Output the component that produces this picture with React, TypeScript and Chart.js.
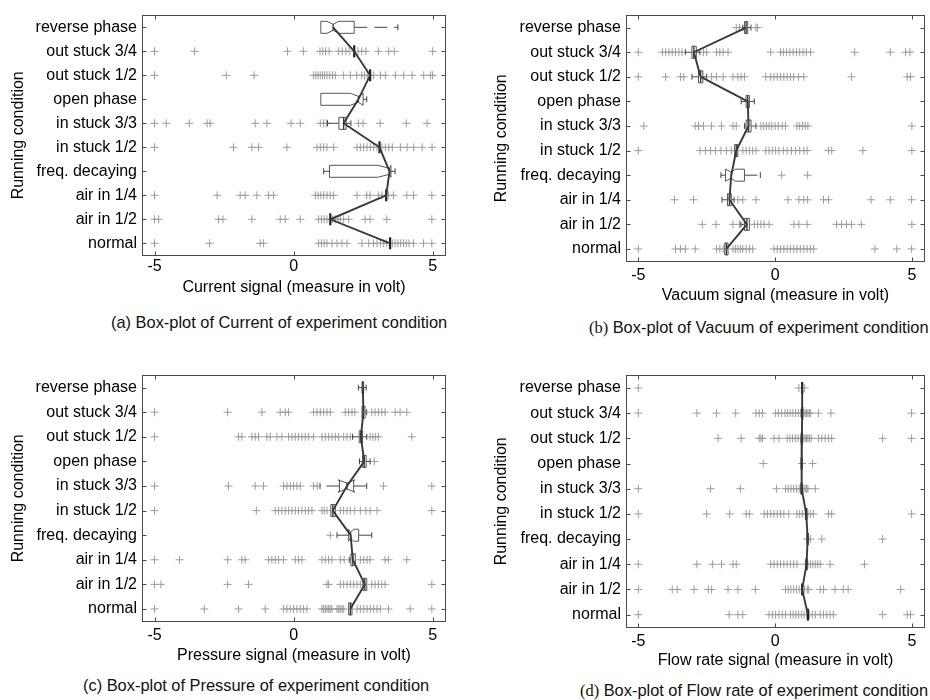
import React, { useEffect, useRef } from "react";
import { Chart, registerables } from "chart.js";
Chart.register(...registerables);

// ---------- data ----------
const categories = [
  "reverse phase",
  "out stuck 3/4",
  "out stuck 1/2",
  "open phase",
  "in stuck 3/3",
  "in stuck 1/2",
  "freq. decaying",
  "air in 1/4",
  "air in 1/2",
  "normal",
];
const xTickValues = [-5, 0, 5];

// (a) Current
const currentMedian = [1.42, 2.18, 2.75, 2.33, 1.8, 3.09, 3.45, 3.33, 1.32, 3.47];
const currentQ1 = [0.98, 2.18, 2.75, 0.98, 1.63, 3.09, 1.29, 3.33, 1.32, 3.47];
const currentQ3 = [2.18, 2.18, 2.75, 2.5, 1.89, 3.09, 3.5, 3.33, 1.32, 3.47];
const currentWhiskerLow = [0.98, 2.18, 2.75, 0.98, 1.22, 3.09, 1.08, 3.33, 1.32, 3.47];
const currentWhiskerHigh = [3.75, 2.18, 2.75, 2.63, 2.06, 3.09, 3.65, 3.33, 1.32, 3.47];
const currentNotchLow = [1.2, null, null, 2.04, null, null, 3.02, null, null, null];
const currentNotchHigh = [1.62, null, null, 2.5, null, null, 3.5, null, null, null];
const currentOutliers = [
  [],
  [-5, -3.56, -0.22, 0.35, 0.95, 1.05, 1.15, 1.28, 1.62, 1.75, 1.88, 2.0, 2.32, 2.45, 2.6, 3.05, 3.42, 3.62, 5.0],
  [-5, -2.42, -1.42, 0.72, 0.8, 0.88, 0.96, 1.04, 1.12, 1.2, 1.3, 1.4, 1.5, 1.8, 2.04, 2.27, 2.45, 2.55, 2.65, 2.78, 2.88, 3.12, 3.3, 3.66, 3.96, 4.26, 4.68, 4.92, 5.0],
  [],
  [-5, -4.58, -3.75, -3.11, -3.0, -1.38, -0.96, -0.09, 0.24, 0.96, 1.08, 1.18, 2.33, 2.5, 3.11, 4.05, 4.8],
  [-5, -2.16, -1.5, -1.26, -0.24, 0.84, 0.96, 1.08, 1.2, 1.44, 2.28, 2.4, 2.52, 2.64, 2.76, 2.88, 3.0, 3.18, 3.3, 3.42, 3.55, 3.84, 4.08, 4.32, 4.62, 4.98],
  [],
  [-5, -2.75, -1.92, -1.74, -1.32, -0.9, -0.72, 0.78, 0.88, 0.98, 1.08, 1.2, 1.32, 1.44, 2.28, 2.63, 2.75, 3.05, 3.18, 3.41, 3.59, 4.07, 4.31, 4.97],
  [-5, -4.85, -2.7, -2.54, -1.5, -0.48, -0.3, 0.24, 0.9, 1.0, 1.1, 1.2, 1.4, 1.5, 1.6, 1.68, 1.8, 1.98, 2.57, 2.75, 3.35, 4.97],
  [-5, -3.02, -1.2, -1.08, 0.9, 1.0, 1.1, 1.2, 1.38, 1.56, 1.74, 1.92, 2.46, 2.7, 2.87, 3.0, 3.12, 3.24, 3.35, 3.55, 3.65, 3.75, 3.85, 3.95, 4.05, 4.15, 4.31, 4.67, 4.97],
];

// (b) Vacuum
const vacuumMedian = [-1.06, -2.97, -2.72, -1.0, -0.97, -1.42, -1.6, -1.67, -1.03, -1.78];
const vacuumQ1 = [-1.12, -3.04, -2.8, -1.06, -1.06, -1.48, -1.81, -1.74, -1.12, -1.84];
const vacuumQ3 = [-1.0, -2.88, -2.64, -0.94, -0.88, -1.36, -1.12, -1.6, -0.94, -1.72];
const vacuumWhiskerLow = [-1.18, -3.28, -3.04, -1.24, -1.12, -1.48, -1.98, -1.94, -1.25, -1.84];
const vacuumWhiskerHigh = [-0.88, -2.75, -2.5, -0.76, -0.7, -1.36, -0.54, -1.5, -0.94, -1.72];
const vacuumNotchLow = [null, null, null, null, null, null, -1.81, null, null, null];
const vacuumNotchHigh = [null, null, null, null, null, null, -1.45, null, null, null];
const vacuumOutliers = [
  [-1.42, -1.3, -0.7, -0.64],
  [-5, -4.12, -4.0, -3.88, -3.76, -3.64, -3.52, -3.4, -2.62, -2.5, -2.14, -2.02, -1.9, -1.72, -0.16, 0.2, 0.3, 0.42, 0.54, 0.66, 0.78, 0.9, 1.02, 1.14, 1.3, 2.91, 4.21, 4.77, 4.93],
  [-5, -4.0, -3.46, -3.34, -2.32, -2.14, -1.9, -1.54, -1.36, -1.24, -1.12, -0.34, -0.16, -0.04, 0.08, 0.2, 0.32, 0.44, 0.56, 0.68, 0.86, 1.05, 2.79, 4.83, 4.95],
  [],
  [-4.8, -2.92, -2.8, -2.62, -2.32, -1.96, -1.54, -1.42, -0.52, -0.42, -0.32, -0.22, -0.12, 0.0, 0.12, 0.26, 0.38, 0.8, 0.9, 1.0, 1.1, 1.2, 5.0],
  [-5, -2.74, -2.55, -2.36, -2.18, -1.98, -1.78, -1.6, -1.18, -1.06, -0.94, -0.82, -0.7, -0.34, -0.22, -0.1, 0.02, 0.14, 0.3, 0.44, 0.6, 0.75, 0.9, 1.05, 1.17, 1.95, 2.07, 3.21, 5.0],
  [0.24, 1.19],
  [-3.68, -2.98, -1.36, -1.18, -0.7, 0.47, 0.87, 1.05, 1.19, 1.77, 1.95, 3.51, 4.21, 4.99],
  [-2.66, -2.16, -1.54, -1.3, -0.76, -0.64, -0.52, -0.4, -0.22, 0.69, 0.87, 1.17, 2.25, 2.43, 2.61, 2.79, 3.15, 5.0],
  [-5, -3.64, -3.46, -3.28, -2.92, -2.14, -2.02, -1.9, -1.54, -1.45, -1.36, -1.27, -1.18, -1.06, -0.94, -0.82, -0.04, 0.08, 0.2, 0.32, 0.44, 0.56, 0.68, 0.8, 0.92, 1.05, 1.17, 1.29, 1.41, 3.65, 4.45, 4.99],
];

// (c) Pressure
const pressureMedian = [2.49, 2.51, 2.42, 2.54, 1.92, 1.41, 2.05, 2.13, 2.56, 2.04];
const pressureQ1 = [2.46, 2.46, 2.36, 2.48, 1.65, 1.34, 1.98, 2.06, 2.49, 1.98];
const pressureQ3 = [2.52, 2.57, 2.48, 2.61, 2.16, 1.5, 2.34, 2.22, 2.63, 2.1];
const pressureWhiskerLow = [2.33, 2.46, 2.12, 2.37, 0.95, 1.34, 1.56, 2.0, 2.49, 1.98];
const pressureWhiskerHigh = [2.61, 2.63, 2.63, 2.75, 2.63, 1.5, 2.81, 2.22, 2.63, 2.1];
const pressureNotchLow = [null, null, null, null, 1.6, null, 1.96, null, null, null];
const pressureNotchHigh = [null, null, null, null, 2.2, null, 2.16, null, null, null];
const pressureOutliers = [
  [],
  [-5, -2.37, -1.14, -0.48, -0.3, -0.18, 0.72, 0.84, 0.96, 1.08, 1.2, 1.32, 1.86, 1.98, 2.1, 2.2, 2.81, 2.93, 3.05, 3.17, 3.29, 3.65, 3.83, 4.07],
  [-5, -1.98, -1.86, -1.5, -1.38, -1.26, -0.96, -0.84, -0.6, -0.42, -0.18, -0.06, 0.06, 0.18, 0.3, 0.42, 0.54, 0.72, 1.02, 1.14, 1.26, 1.38, 1.5, 1.62, 1.8, 1.92, 2.04, 2.75, 2.85, 2.95, 3.05, 4.25],
  [2.9],
  [-5, -2.34, -1.38, -1.08, -0.36, -0.24, -0.12, 0.0, 0.12, 0.24, 0.72, 0.85, 3.23, 4.97],
  [-5, -1.34, -0.66, -0.54, -0.42, -0.3, -0.18, -0.06, 0.06, 0.18, 0.3, 0.42, 0.54, 0.66, 1.02, 1.1, 1.2, 1.68, 1.8, 1.92, 2.04, 2.2, 2.4, 2.6, 2.75, 3.0, 4.97],
  [1.32],
  [-5, -4.1, -2.37, -1.86, -1.74, -0.9, -0.78, -0.66, -0.54, -0.36, 0.06, 0.18, 0.3, 1.02, 1.14, 1.26, 1.38, 1.68, 1.82, 2.4, 2.52, 2.64, 2.75, 3.29, 3.41, 4.07],
  [-5, -4.77, -2.37, -1.62, 1.2, 1.26, 1.68, 1.8, 1.92, 2.04, 2.16, 2.28, 2.4, 2.81, 2.93, 3.05, 3.17, 3.29, 4.97],
  [-5, -3.21, -1.98, -1.02, -0.36, -0.24, -0.12, 0.0, 0.12, 0.24, 0.36, 0.48, 1.02, 1.08, 1.14, 1.2, 1.26, 1.32, 1.38, 1.56, 1.62, 1.68, 1.74, 1.8, 2.28, 2.4, 2.52, 2.64, 2.76, 2.88, 3.0, 3.12, 3.41, 4.19, 4.97],
];

// (d) Flow rate
const flowMedian = [0.99, 0.99, 0.98, 0.97, 0.97, 1.14, 1.19, 1.15, 0.99, 1.2];
const flowQ1 = [0.99, 0.99, 0.98, 0.97, 0.97, 1.14, 1.19, 1.15, 0.99, 1.2];
const flowQ3 = [0.99, 0.99, 0.98, 0.97, 0.97, 1.14, 1.19, 1.15, 0.99, 1.2];
const flowWhiskerLow = [0.99, 0.99, 0.98, 0.97, 0.97, 1.14, 1.19, 1.15, 0.99, 1.2];
const flowWhiskerHigh = [0.99, 0.99, 0.98, 0.97, 0.97, 1.14, 1.19, 1.15, 0.99, 1.2];
const flowNotchLow = [null, null, null, null, null, null, null, null, null, null];
const flowNotchHigh = [null, null, null, null, null, null, null, null, null, null];
const flowOutliers = [
  [-5, 0.87, 1.08],
  [-5, -2.86, -2.14, -1.44, -0.7, -0.58, -0.46, 0.02, 0.12, 0.24, 0.36, 0.45, 0.55, 0.65, 0.75, 0.85, 0.93, 1.05, 1.1, 1.15, 1.2, 1.25, 1.29, 1.59, 2.04, 4.99],
  [-2.08, -1.24, -0.58, -0.52, -0.46, -0.04, 0.14, 0.44, 0.54, 0.64, 0.74, 0.84, 0.93, 1.05, 1.1, 1.15, 1.2, 1.25, 1.32, 1.59, 1.71, 1.83, 1.95, 2.07, 3.93, 4.99],
  [-0.43, 0.99, 1.37],
  [-5, -2.36, -1.27, 0.05, 0.38, 0.48, 0.58, 0.68, 0.78, 0.88, 0.93, 1.05, 1.1, 1.15, 1.2, 1.47],
  [-5, -2.5, -1.66, -1.06, -0.94, -0.4, -0.28, -0.16, -0.04, 0.08, 0.2, 0.32, 0.5, 0.8, 0.9, 1.0, 1.1, 1.2, 1.3, 1.4, 1.95, 2.07, 4.99],
  [1.17, 1.29, 1.71, 3.93],
  [-5, -2.86, -2.28, -1.96, -1.54, -1.42, -0.16, -0.04, 0.08, 0.2, 0.32, 0.44, 0.56, 0.68, 0.8, 1.11, 1.2, 1.29, 1.38, 1.47, 1.56, 1.65, 2.01, 3.27],
  [-5, -3.76, -3.58, -2.96, -2.44, -2.32, -1.72, -1.36, -0.72, 0.38, 0.48, 0.58, 0.68, 0.78, 0.88, 0.98, 1.08, 1.18, 1.23, 1.65, 1.77, 2.19, 2.49, 2.67, 4.59],
  [-5, -1.68, -1.36, -1.18, -0.22, -0.1, 0.02, 0.14, 0.26, 0.38, 0.56, 0.66, 0.76, 0.86, 0.96, 1.06, 1.16, 1.26, 1.36, 1.47, 1.65, 1.77, 1.89, 2.01, 2.13, 3.93, 4.83, 4.95],
];

const axisTitles = [
  "Current signal (measure in volt)",
  "Vacuum signal (measure in volt)",
  "Pressure signal (measure in volt)",
  "Flow rate signal (measure in volt)",
];
const captionLabels = ["(a)", "(b)", "(c)", "(d)"];
const captionTexts = [
  " Box-plot of Current of experiment condition",
  " Box-plot of Vacuum of experiment condition",
  " Box-plot of Pressure of experiment condition",
  " Box-plot of Flow rate of experiment condition",
];
const yAxisTitle = "Running condition";

// ---------- assembly ----------
const panelData = [
  { median: currentMedian, q1: currentQ1, q3: currentQ3, wLo: currentWhiskerLow, wHi: currentWhiskerHigh, nLo: currentNotchLow, nHi: currentNotchHigh, outliers: currentOutliers },
  { median: vacuumMedian, q1: vacuumQ1, q3: vacuumQ3, wLo: vacuumWhiskerLow, wHi: vacuumWhiskerHigh, nLo: vacuumNotchLow, nHi: vacuumNotchHigh, outliers: vacuumOutliers },
  { median: pressureMedian, q1: pressureQ1, q3: pressureQ3, wLo: pressureWhiskerLow, wHi: pressureWhiskerHigh, nLo: pressureNotchLow, nHi: pressureNotchHigh, outliers: pressureOutliers },
  { median: flowMedian, q1: flowQ1, q3: flowQ3, wLo: flowWhiskerLow, wHi: flowWhiskerHigh, nLo: flowNotchLow, nHi: flowNotchHigh, outliers: flowOutliers },
];

const layouts = [
  { left: 0, top: 0, width: 460, height: 300, padTop: 7, padRight: 14, yAxisW: 142, xAxisH: 44, tickPad: 1, xTitlePad: 3, yTitlePad: 9, capLeft: 111, capTop: 313, serifLabel: false },
  { left: 460, top: 0, width: 470, height: 310, padTop: 7, padRight: 1, yAxisW: 166, xAxisH: 48, tickPad: 4, xTitlePad: 5, yTitlePad: 32, capLeft: 589, capTop: 318, serifLabel: true },
  { left: 0, top: 360, width: 460, height: 310, padTop: 12, padRight: 14, yAxisW: 142, xAxisH: 48, tickPad: 4, xTitlePad: 5, yTitlePad: 9, capLeft: 83, capTop: 676, serifLabel: false },
  { left: 460, top: 360, width: 470, height: 320, padTop: 12, padRight: 1, yAxisW: 166, xAxisH: 52, tickPad: 4, xTitlePad: 10, yTitlePad: 32, capLeft: 580, capTop: 681, serifLabel: true },
];

const SANS = "'Liberation Sans', Arial, Helvetica, sans-serif";
const TEXT = "#000";
const N = categories.length;

function makeFramePlugin() {
  return {
    id: "frame",
    afterDraw(chart: any) {
      const { ctx, chartArea: a } = chart;
      const xs = chart.scales.x;
      const ys = chart.scales.y;
      ctx.save();
      ctx.strokeStyle = "#4a4a4a";
      ctx.lineWidth = 1;
      const L = Math.round(a.left) + 0.5;
      const R = Math.round(a.right) - 0.5;
      const T = Math.round(a.top) + 0.5;
      const B = Math.round(a.bottom) - 0.5;
      ctx.strokeRect(L, T, R - L, B - T);
      ctx.beginPath();
      xTickValues.forEach((v) => {
        const px = Math.round(xs.getPixelForValue(v)) + 0.5;
        ctx.moveTo(px, T);
        ctx.lineTo(px, T + 4);
        ctx.moveTo(px, B);
        ctx.lineTo(px, B - 4);
      });
      categories.forEach((_, i) => {
        const py = Math.round(ys.getPixelForValue(N - i)) + 0.5;
        ctx.moveTo(L, py);
        ctx.lineTo(L + 4, py);
        ctx.moveTo(R, py);
        ctx.lineTo(R - 4, py);
      });
      ctx.stroke();
      ctx.restore();
    },
  };
}

function makeBoxPlugin(p: any) {
  return {
    id: "boxes",
    beforeDatasetDraw(chart: any, args: any) {
      if (args.index !== 1) return;
      const { ctx } = chart;
      const xs = chart.scales.x;
      const ys = chart.scales.y;
      const X = (v: number) => xs.getPixelForValue(v);
      const H = 6;
      ctx.save();
      categories.forEach((_, i) => {
        const y = ys.getPixelForValue(N - i);
        const q1 = X(p.q1[i]);
        const q3 = X(p.q3[i]);
        const md = X(p.median[i]);
        const lo = X(p.wLo[i]);
        const hi = X(p.wHi[i]);
        ctx.strokeStyle = "#444";
        ctx.lineWidth = 1;
        // whiskers
        ctx.setLineDash([13, 7]);
        ctx.beginPath();
        if (lo < q1 - 0.5) {
          ctx.moveTo(q1, y);
          ctx.lineTo(lo, y);
        }
        if (hi > q3 + 0.5) {
          ctx.moveTo(q3, y);
          ctx.lineTo(hi, y);
        }
        ctx.stroke();
        ctx.setLineDash([]);
        ctx.beginPath();
        if (lo < q1 - 0.5) {
          ctx.moveTo(lo, y - 3);
          ctx.lineTo(lo, y + 3);
        }
        if (hi > q3 + 0.5) {
          ctx.moveTo(hi, y - 3);
          ctx.lineTo(hi, y + 3);
        }
        ctx.stroke();
        // box
        if (q3 - q1 > 0.5) {
          const nl = p.nLo[i];
          const nh = p.nHi[i];
          ctx.strokeStyle = "#555";
          ctx.beginPath();
          if (nl != null && nh != null) {
            const a = X(nl);
            const b = X(nh);
            ctx.moveTo(q1, y - H);
            ctx.lineTo(a, y - H);
            ctx.lineTo(md, y - H / 2);
            ctx.lineTo(b, y - H);
            ctx.lineTo(q3, y - H);
            ctx.lineTo(q3, y + H);
            ctx.lineTo(b, y + H);
            ctx.lineTo(md, y + H / 2);
            ctx.lineTo(a, y + H);
            ctx.lineTo(q1, y + H);
            ctx.closePath();
          } else {
            ctx.rect(q1, y - H, q3 - q1, 2 * H);
          }
          ctx.stroke();
          const mh = nl != null ? H / 2 : H;
          ctx.strokeStyle = "#333";
          ctx.lineWidth = 1.3;
          ctx.beginPath();
          ctx.moveTo(md, y - mh);
          ctx.lineTo(md, y + mh);
          ctx.stroke();
        } else {
          ctx.strokeStyle = "#222";
          ctx.lineWidth = 2.2;
          ctx.beginPath();
          ctx.moveTo(md, y - H);
          ctx.lineTo(md, y + H);
          ctx.stroke();
        }
      });
      ctx.restore();
    },
  };
}

function BoxPanel({ index }: { index: number }) {
  const ref = useRef<HTMLCanvasElement | null>(null);
  const p = panelData[index];
  const L = layouts[index];
  useEffect(() => {
    if (!ref.current) return;
    const outlierPoints: any[] = [];
    p.outliers.forEach((arr: number[], i: number) => {
      arr.forEach((v) => outlierPoints.push({ x: v, y: N - i }));
    });
    const medianPoints = p.median.map((v: number, i: number) => ({ x: v, y: N - i }));
    const chart = new Chart(ref.current, {
      type: "scatter",
      data: {
        datasets: [
          {
            data: outlierPoints,
            pointStyle: "cross",
            pointRadius: 4,
            pointBorderWidth: 1,
            borderWidth: 1,
            borderColor: "#9c9c9c",
            backgroundColor: "#9c9c9c",
            order: 2,
          } as any,
          {
            data: medianPoints,
            showLine: true,
            borderColor: "#383838",
            borderWidth: 1.9,
            pointRadius: 0,
            tension: 0,
            order: 1,
          } as any,
        ],
      },
      options: {
        responsive: false,
        animation: false,
        events: [],
        devicePixelRatio: 1,
        layout: { padding: { top: L.padTop, right: L.padRight, left: 0, bottom: 0 } },
        plugins: { legend: { display: false }, tooltip: { enabled: false } },
        scales: {
          x: {
            type: "linear",
            min: -5.45,
            max: 5.48,
            grid: { display: false, drawTicks: false },
            border: { display: false },
            afterBuildTicks: (s: any) => {
              s.ticks = xTickValues.map((v) => ({ value: v }));
            },
            afterFit: (s: any) => {
              s.height = L.xAxisH;
            },
            ticks: {
              autoSkip: false,
              maxRotation: 0,
              padding: L.tickPad,
              color: TEXT,
              font: { family: SANS, size: 16 },
              callback: (v: any) => String(v),
            },
            title: {
              display: true,
              text: axisTitles[index],
              color: TEXT,
              font: { family: SANS, size: 16 },
              padding: { top: 0, bottom: L.xTitlePad },
            },
          },
          y: {
            type: "linear",
            min: 0.47,
            max: 10.53,
            grid: { display: false, drawTicks: false },
            border: { display: false },
            afterBuildTicks: (s: any) => {
              s.ticks = categories.map((_, i) => ({ value: N - i }));
            },
            afterFit: (s: any) => {
              s.width = L.yAxisW;
            },
            ticks: {
              autoSkip: false,
              padding: 5,
              color: TEXT,
              font: { family: SANS, size: 16 },
              callback: (v: any) => categories[N - Math.round(v)],
            },
            title: {
              display: true,
              text: yAxisTitle,
              color: TEXT,
              font: { family: SANS, size: 16 },
              padding: { top: L.yTitlePad, bottom: 0 },
            },
          },
        },
      } as any,
      plugins: [makeBoxPlugin(p), makeFramePlugin()],
    });
    return () => chart.destroy();
  }, []);
  return (
    <>
      <canvas
        ref={ref}
        width={L.width}
        height={L.height}
        style={{ position: "absolute", left: L.left, top: L.top, width: L.width, height: L.height }}
      />
      <div
        style={{
          position: "absolute",
          left: L.capLeft,
          top: L.capTop,
          fontFamily: SANS,
          fontSize: "16.4px",
          lineHeight: "18px",
          whiteSpace: "nowrap",
          color: "#111",
        }}
      >
        <span style={{ fontFamily: L.serifLabel ? "'Liberation Serif', 'Times New Roman', serif" : SANS }}>
          {captionLabels[index]}
        </span>
        {captionTexts[index]}
      </div>
    </>
  );
}

export default function App() {
  return (
    <div
      style={{
        position: "absolute",
        left: 0,
        top: 0,
        width: 930,
        height: 700,
        background: "#fff",
        overflow: "hidden",
      }}
    >
      {[0, 1, 2, 3].map((i) => (
        <BoxPanel key={i} index={i} />
      ))}
    </div>
  );
}
